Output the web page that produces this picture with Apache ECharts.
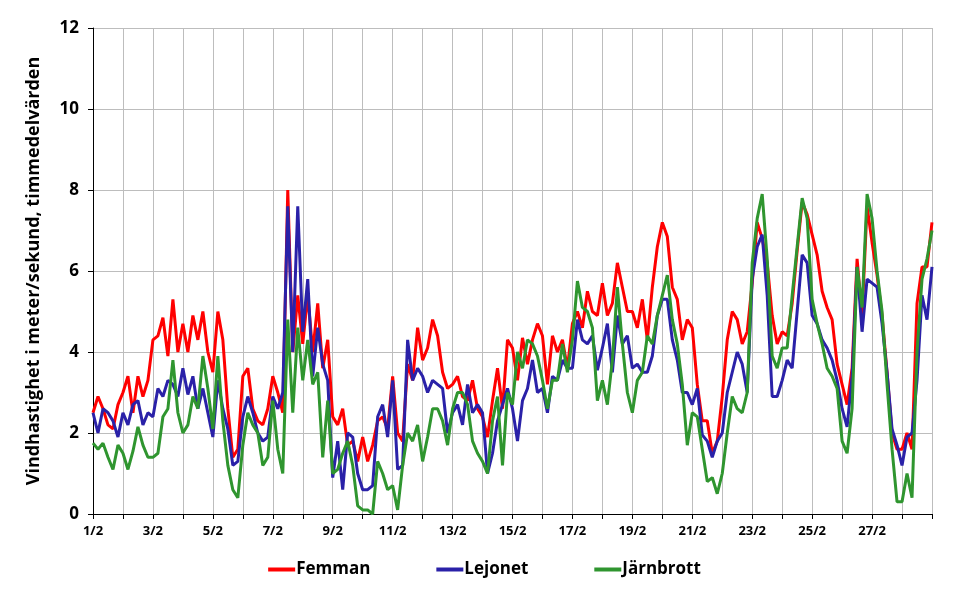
<!DOCTYPE html>
<html>
<head>
<meta charset="utf-8">
<script src="https://cdn.jsdelivr.net/npm/echarts@6/dist/echarts.min.js"></script>
<style>
 html, body { margin: 0; padding: 0; background: #fff; }
 #vind { width: 969px; height: 592px; }
</style>
</head>
<body>
<div id="vind"></div>
<script>
// timmedelvärden, avlästa var 4:e timme (6 per dygn), 1/2 - 29/2
var femman = [
 2.5, 2.9, 2.6, 2.2, 2.1, 2.7,
 3.0, 3.4, 2.5, 3.4, 2.9, 3.3,
 4.3, 4.4, 4.85, 3.9, 5.3, 4.0,
 4.7, 4.0, 4.9, 4.3, 5.0, 4.0,
 3.5, 5.0, 4.3, 2.6, 1.4, 1.6,
 3.4, 3.6, 2.6, 2.3, 2.2, 2.6,
 3.4, 3.0, 2.5, 8.0, 4.0, 5.4,
 4.2, 5.4, 4.0, 5.2, 3.6, 4.3,
 2.4, 2.2, 2.6, 1.7, 1.8, 1.3,
 1.9, 1.3, 1.7, 2.3, 2.4, 2.1,
 3.4, 2.0, 1.8, 3.7, 3.3, 4.6,
 3.8, 4.1, 4.8, 4.4, 3.5, 3.1,
 3.2, 3.4, 2.9, 2.8, 3.3, 2.6,
 2.4, 1.9, 2.8, 3.6, 2.6, 4.3,
 4.1, 3.3, 4.35, 3.7, 4.3, 4.7,
 4.4, 3.2, 4.4, 4.0, 4.3, 3.6,
 4.7, 5.0, 4.6, 5.5, 5.0, 4.9,
 5.7, 4.9, 5.2, 6.2, 5.6, 5.0,
 5.0, 4.6, 5.3, 4.3, 5.6, 6.6,
 7.2, 6.85, 5.6, 5.3, 4.3, 4.8,
 4.6, 3.2, 2.3, 2.3, 1.5, 1.8,
 2.9, 4.3, 5.0, 4.8, 4.2, 4.5,
 5.7, 7.2, 6.8, 6.2, 4.9, 4.2,
 4.5, 4.4, 5.2, 6.5, 7.7, 7.4,
 6.9, 6.4, 5.5, 5.1, 4.8, 3.7,
 3.2, 2.7, 3.6, 6.3, 4.9, 7.6,
 6.7, 5.9, 4.9, 3.5, 2.0, 1.6,
 1.6, 2.0, 1.6, 5.2, 6.1, 6.1,
 7.2
];
var lejonet = [
 2.5, 2.0, 2.6, 2.5, 2.3, 1.9,
 2.5, 2.2, 2.7, 2.8, 2.2, 2.5,
 2.4, 3.1, 2.9, 3.3, 3.2, 2.9,
 3.6, 2.95, 3.4, 2.6, 3.1, 2.5,
 1.9, 3.3, 2.6, 2.1, 1.2, 1.3,
 2.4, 2.9, 2.5, 2.0, 1.8, 1.9,
 2.9, 2.6, 3.0, 7.6, 4.0, 7.6,
 4.5, 5.8, 3.4, 4.6, 3.7, 3.3,
 0.9, 1.8, 0.6, 2.0, 1.9, 1.0,
 0.6, 0.6, 0.7, 2.4, 2.7, 1.9,
 3.3, 1.1, 1.2, 4.3, 3.3, 3.6,
 3.4, 3.0, 3.3, 3.2, 3.1, 2.0,
 2.5, 2.7, 2.2, 3.2, 2.5, 2.7,
 2.5, 1.0, 1.5, 2.3, 2.7, 3.1,
 2.6, 1.8, 2.8, 3.1, 3.8, 3.0,
 3.1, 2.5, 3.4, 3.3, 3.8, 3.6,
 3.6, 4.8, 4.3, 4.2, 4.4, 3.55,
 4.1, 4.7, 3.5, 4.9, 4.2, 4.4,
 3.6, 3.7, 3.5, 3.5, 3.9, 4.9,
 5.3, 5.3, 4.3, 3.8, 3.0, 3.0,
 2.7, 3.1, 1.95, 1.8, 1.4, 1.8,
 2.0, 3.0, 3.5, 4.0, 3.7, 3.0,
 5.8, 6.6, 6.9, 5.4, 2.9, 2.9,
 3.3, 3.8, 3.6, 5.0, 6.4, 6.2,
 4.9, 4.7, 4.3, 4.1, 3.8, 3.3,
 2.6, 2.15, 3.4, 6.1, 4.5, 5.8,
 5.7, 5.6, 4.7, 3.5, 2.1, 1.7,
 1.2, 1.9, 2.0, 3.3, 5.4, 4.8,
 6.1
];
var jarnbrott = [
 1.75, 1.6, 1.75, 1.4, 1.1, 1.7,
 1.5, 1.1, 1.55, 2.15, 1.7, 1.4,
 1.4, 1.5, 2.4, 2.6, 3.8, 2.5,
 2.0, 2.2, 2.9, 2.6, 3.9, 3.1,
 2.1, 3.9, 2.3, 1.2, 0.6, 0.4,
 1.7, 2.5, 2.2, 2.0, 1.2, 1.4,
 2.8, 1.6, 1.0, 4.8, 2.5, 4.6,
 3.3, 4.3, 3.2, 3.5, 1.4, 2.8,
 1.0, 1.1, 1.5, 1.8, 1.2, 0.2,
 0.1, 0.1, 0.0, 1.3, 1.0, 0.6,
 0.7, 0.1, 1.2, 2.0, 1.8, 2.2,
 1.3, 1.9, 2.6, 2.6, 2.3, 1.7,
 2.6, 3.0, 3.0, 2.7, 1.8, 1.5,
 1.3, 1.0, 2.3, 2.9, 1.2, 3.0,
 2.7, 4.0, 3.6, 4.3, 4.2, 3.9,
 3.3, 2.6, 3.3, 3.3, 4.2, 3.5,
 4.3, 5.75, 5.1, 5.0, 4.6, 2.8,
 3.3, 2.7, 3.8, 5.6, 4.2, 3.0,
 2.5, 3.3, 3.5, 4.4, 4.2, 4.9,
 5.4, 5.9, 4.8, 4.2, 3.2, 1.7,
 2.5, 2.4, 1.6, 0.8, 0.9, 0.5,
 1.0, 2.0, 2.9, 2.6, 2.5, 3.0,
 6.2, 7.3, 7.9, 6.3, 3.9, 3.6,
 4.1, 4.1, 5.4, 6.6, 7.8, 7.3,
 5.3, 4.7, 4.2, 3.6, 3.4, 3.1,
 1.8, 1.5, 2.6, 6.1, 5.1, 7.9,
 7.3, 6.0, 5.0, 3.2, 1.6, 0.3,
 0.3, 1.0, 0.4, 4.0, 5.8, 6.3,
 7.0
];
var tickLabels = ['1/2', '3/2', '5/2', '7/2', '9/2', '11/2', '13/2', '15/2', '17/2', '19/2', '21/2', '23/2', '25/2', '27/2'];
var stationer = ['Femman', 'Lejonet', 'Järnbrott'];
var farger = ['#ff0000', '#2a21a8', '#2f952f'];
var perDygn = 6;

function toPoints(arr) {
    return arr.map(function (v, i) { return [i / perDygn, v]; });
}

var myChart = echarts.init(document.getElementById('vind'));
var font = '"Open Sans", Lato, sans-serif';

myChart.setOption({
    animation: false,
    color: farger,
    grid: { left: 93, right: 37, top: 28, bottom: 78 },
    legend: {
        bottom: 9,
        left: 'center',
        icon: 'rect',
        itemWidth: 27,
        itemHeight: 4,
        itemGap: 66,
        textStyle: { fontFamily: font, fontWeight: 'bold', fontSize: 17, color: '#000', padding: [0, 0, 0, -4] },
        data: stationer
    },
    xAxis: {
        type: 'value',
        min: 0,
        max: 28,
        interval: 1,
        axisLine: { lineStyle: { color: '#000', width: 1 } },
        axisTick: { show: true, length: 5, lineStyle: { color: '#000' } },
        axisLabel: {
            margin: 11,
            fontFamily: font, fontWeight: 'bold', fontSize: 13, color: '#000',
            formatter: function (v) {
                return (v % 2 === 0 && v / 2 < tickLabels.length) ? tickLabels[v / 2] : '';
            }
        },
        splitLine: { show: true, lineStyle: { color: '#bdbdbd', width: 1 } }
    },
    yAxis: {
        type: 'value',
        min: 0,
        max: 12,
        interval: 2,
        name: 'Vindhastighet i meter/sekund, timmedelvärden',
        nameLocation: 'middle',
        nameGap: 50,
        nameTextStyle: { fontFamily: font, fontWeight: 'bold', fontSize: 18, color: '#000' },
        axisLine: { show: true, lineStyle: { color: '#000', width: 1 } },
        axisTick: { show: true, length: 5, lineStyle: { color: '#000' } },
        axisLabel: { margin: 14, fontFamily: font, fontWeight: 'bold', fontSize: 17, color: '#000' },
        splitLine: { show: true, lineStyle: { color: '#bdbdbd', width: 1 } }
    },
    series: [
        { name: stationer[0], type: 'line', showSymbol: false, data: toPoints(femman), lineStyle: { width: 3 } },
        { name: stationer[1], type: 'line', showSymbol: false, data: toPoints(lejonet), lineStyle: { width: 3 } },
        { name: stationer[2], type: 'line', showSymbol: false, data: toPoints(jarnbrott), lineStyle: { width: 3 } }
    ]
});

window.addEventListener('resize', function () { myChart.resize(); });
</script>
</body>
</html>
